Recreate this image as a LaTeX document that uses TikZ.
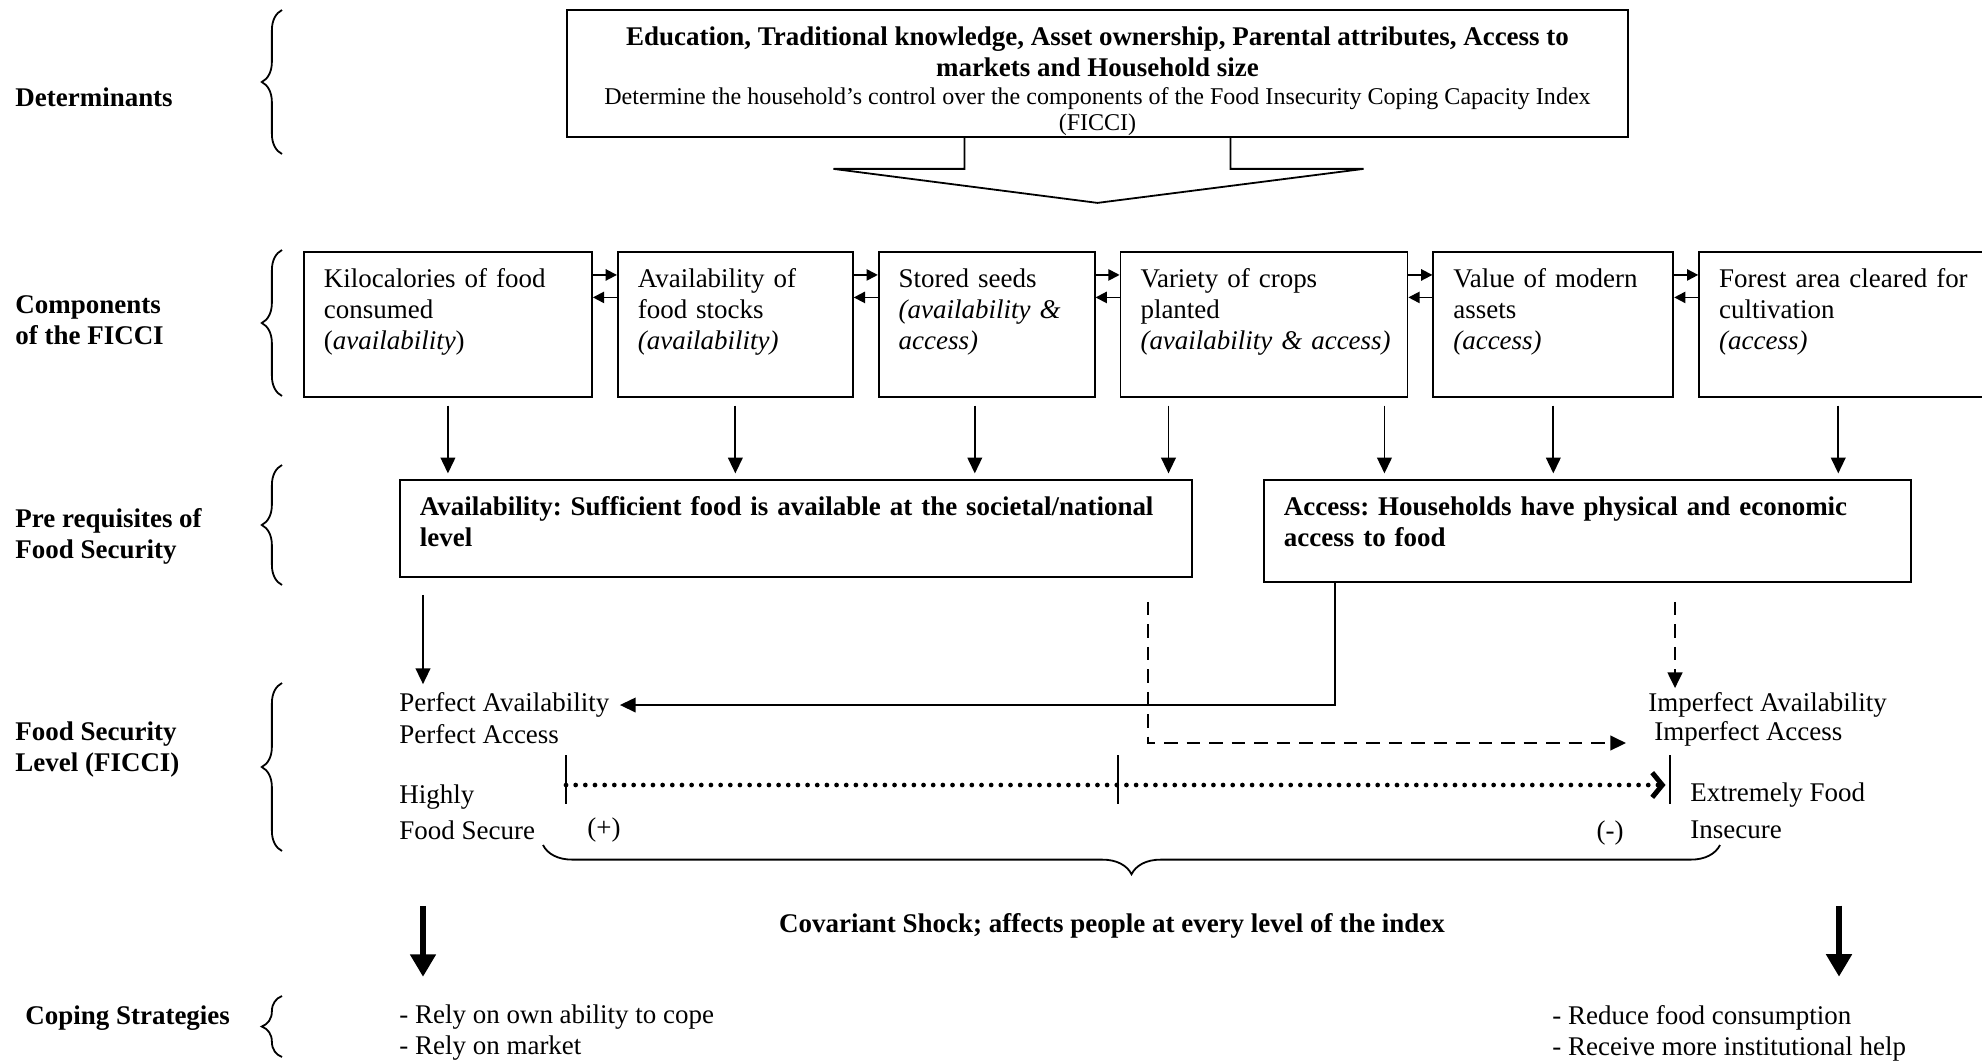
\documentclass[tikz,border=0pt]{standalone}
\usepackage{fontspec}
\setmainfont{Liberation Serif}
\usetikzlibrary{arrows.meta,calc,positioning,decorations.pathreplacing}

\newcommand{\nfont}{\frenchspacing\fontsize{12}{13.8}\selectfont}

\tikzset{
  box/.style={draw, line width=0.8pt, anchor=north west, align=left, font=\nfont,
    inner xsep=8.9pt, inner ysep=0pt, text height=16pt},
  txt/.style={anchor=west, inner sep=0pt, align=left, font=\nfont},
  lbl/.style={txt, font=\nfont\bfseries},
  arr/.style={-{Triangle[length=7pt,width=6.5pt]}, line width=0.8pt},
  sarr/.style={-{Triangle[length=5pt,width=5pt]}, line width=0.8pt},
  down/.style={arr, shorten <=3.5pt, shorten >=2.5pt},
  dsh/.style={dash pattern=on 6pt off 4pt, line width=1.1pt},
  fat/.style={-{Triangle[length=10pt,width=11pt]}, line width=3pt},
  lbrace/.style={decorate, decoration={brace, amplitude=9pt}, line width=0.8pt}
}

\begin{document}
\begin{tikzpicture}[x=0.445pt, y=-0.445pt]
\useasboundingbox (0,0) rectangle (1982,1060);
\clip (0,0) rectangle (1982,1060);

% row labels and braces
\node[lbl] (ldet) at (15,97) {Determinants};
\node[lbl] (lcomp) at (15,320) {Components\\of the FICCI};
\node[lbl] (lpre) at (15,536) {Pre requisites of\\Food Security};
\node[lbl] (llvl) at (15,749) {Food Security\\Level (FICCI)};
\node[lbl] (lcop) at (25,1018) {Coping Strategies};

\draw[lbrace] (282,154) -- (282,10);
\draw[lbrace] (282,396) -- (282,250);
\draw[lbrace] (282,585) -- (282,465);
\draw[lbrace] (282,851) -- (282,683);
\draw[lbrace] (282,1057) -- (282,996);

% determinants
\node (det) [draw, line width=0.8pt, align=center, font=\nfont, minimum width=472pt, minimum height=56.5pt, inner sep=0pt] at (1097.5,73.5)
  {\rule{0pt}{15pt}\bfseries Education, Traditional knowledge, Asset ownership, Parental attributes, Access to\\
   \bfseries markets and Household size\\[-1pt]
   \fontsize{10.7}{12}\selectfont Determine the household's control over the components of the Food Insecurity Coping Capacity Index\\[-2.4pt]
   \fontsize{10.7}{12}\selectfont (FICCI)};
\draw[line width=0.8pt] (det.south) ++(-133,0) -- ++(0,31) -- ++(-131,0) -- ++(264,34)
  -- ++(266,-34) -- ++(-133,0) -- ++(0,-31);

% components of the FICCI
\node (kcal) [box, text width=110.4pt, text depth=48.5pt] at (303,251)
  {Kilocalories of food\\consumed\\(\textit{availability})};
\node (stocks) [box, text width=86.8pt, text depth=48.5pt, right=10.7pt of kcal]
  {Availability of\\food stocks\\\textit{(availability)}};
\node (seeds) [box, text width=78.3pt, text depth=48.5pt, right=10.7pt of stocks]
  {Stored seeds\\\textit{(availability \&}\\\textit{access)}};
\node (crops) [box, text width=109.9pt, text depth=48.5pt, right=10.7pt of seeds]
  {Variety of crops\\planted\\\mbox{\textit{(availability \& access)}}};
\node (assets) [box, text width=89pt, text depth=48.5pt, right=10.7pt of crops]
  {Value of modern\\assets\\\textit{(access)}};
\node (forest) [box, text width=125pt, text depth=48.5pt, right=10.7pt of assets]
  {Forest area cleared for\\cultivation\\\textit{(access)}};

\draw[sarr] ([yshift=22pt]kcal.east) -- ([yshift=22pt]stocks.west);
\draw[sarr] ([yshift=12pt]stocks.west) -- ([yshift=12pt]kcal.east);
\draw[sarr] ([yshift=22pt]stocks.east) -- ([yshift=22pt]seeds.west);
\draw[sarr] ([yshift=12pt]seeds.west) -- ([yshift=12pt]stocks.east);
\draw[sarr] ([yshift=22pt]seeds.east) -- ([yshift=22pt]crops.west);
\draw[sarr] ([yshift=12pt]crops.west) -- ([yshift=12pt]seeds.east);
\draw[sarr] ([yshift=22pt]crops.east) -- ([yshift=22pt]assets.west);
\draw[sarr] ([yshift=12pt]assets.west) -- ([yshift=12pt]crops.east);
\draw[sarr] ([yshift=22pt]assets.east) -- ([yshift=22pt]forest.west);
\draw[sarr] ([yshift=12pt]forest.west) -- ([yshift=12pt]assets.east);

% pre requisites
\node (av) [box, font=\nfont\bfseries, text width=334.6pt, text depth=27.2pt] at (399,479)
  {Availability: Sufficient food is available at the societal/national\\level};
\node (acc) [box, font=\nfont\bfseries, text width=270.2pt, text depth=29.4pt] at (1263,479)
  {Access: Households have physical and economic\\access to food};

\draw[down] (kcal.south) -- (kcal.south |- av.north);
\draw[down] (stocks.south) -- (stocks.south |- av.north);
\draw[down] ([xshift=-5.3pt]seeds.south) -- ([xshift=-5.3pt]seeds.south |- av.north);
\draw[down] ([xshift=-42.5pt]crops.south) -- ([xshift=-42.5pt]crops.south |- av.north);
\draw[down] ([xshift=53.6pt]crops.south) -- ([xshift=53.6pt]crops.south |- acc.north);
\draw[down] (assets.south) -- (assets.south |- acc.north);
\draw[down] ([xshift=62.3pt]forest.south west) -- ([xshift=62.3pt]forest.south west |- acc.north);

% food security level
\node[txt] (perfav) at (399,705) {Perfect Availability};
\node[txt] (perfac) at (399,734) {Perfect Access};
\node[txt] (impav) at (1648,705) {Imperfect Availability};
\node[txt] (impac) at (1654,734) {Imperfect Access};
\node[txt] (highly) at (399,797) {Highly};
\node[txt] (fsec) at (399,830) {Food Secure};
\node[txt] (extr) at (1690,795) {Extremely Food};
\node[txt] (insec) at (1690,830) {Insecure};
\node[txt, anchor=center] (plus) at (604,830) {(+)};
\node[txt, anchor=center] (minus) at (1610,833) {(-)};

\draw[arr] ($(av.south west)+(24,17)$) -- ($(perfav.north west)+(24,-8)$);
\draw[arr] ($(acc.south west)+(72,0)$) |- ([xshift=4.5pt]perfav.east);
\draw[arr, dsh] ($(av.south west)+(749,24)$) |- ($(impac.west)+(-28,9)$);
\draw[arr, dsh] ($(acc.south west)+(412,19)$) -- ($(impav.north west)+(27,-4)$);

\coordinate (sL) at (566,785);
\coordinate (sM) at (1118,785);
\coordinate (sR) at (1670,785);
\draw[line width=0.8pt] (sL) ++(0,-30) -- ++(0,49);
\draw[line width=0.8pt] (sM) ++(0,-30) -- ++(0,49);
\draw[line width=0.8pt] (sR) ++(0,-30) -- ++(0,49);
\draw[line width=2.1pt, line cap=round, dash pattern=on 0pt off 4.3pt,
  -{Straight Barb[length=4.5pt,width=11pt,line width=2.2pt]}] (sL) -- ([xshift=-2pt]sR);

\draw[decorate, decoration={brace, mirror, amplitude=13pt}, line width=0.8pt] (543,845) -- (1720,845);

% covariant shock and coping strategies
\node[lbl, anchor=center] (shock) at (1112,926) {Covariant Shock; affects people at every level of the index};
\node[txt] (copL) at (399,1033) {- Rely on own ability to cope\\- Rely on market};
\node[txt] (copR) at (1552,1033) {- Reduce food consumption\\- Receive more institutional help};

\draw[fat] ($(copL.north west)+(24,-99)$) -- ($(copL.north west)+(24,-28)$);
\draw[fat] ($(copR.north west)+(287,-99)$) -- ($(copR.north west)+(287,-28)$);
\end{tikzpicture}
\end{document}
